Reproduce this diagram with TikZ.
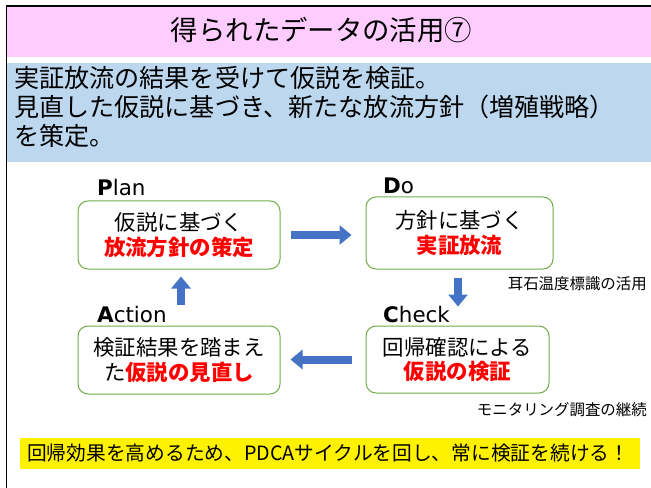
\documentclass[tikz,border=0pt]{standalone}
\usepackage{fontspec}
\usetikzlibrary{arrows.meta}
\setmainfont{Noto Sans CJK JP}
\newfontfamily\lat{DejaVu Sans}
\definecolor{pinkc}{HTML}{FFCCFF}
\definecolor{bluec}{HTML}{BDD7EE}
\definecolor{greenc}{HTML}{70AD47}
\definecolor{arrowc}{HTML}{4472C4}
\definecolor{redc}{HTML}{FF0000}
\begin{document}
\begin{tikzpicture}[x=1bp,y=-1bp,
  box/.style={draw=greenc, line width=1bp, rounded corners=10bp, align=center,
    inner sep=0, font=\fontsize{21.5}{24.5}\selectfont},
  lbl/.style={anchor=base west, inner sep=0, font=\lat\fontsize{21.5}{24}\selectfont},
  side/.style={anchor=base east, inner sep=0, font=\fontsize{15.5}{18}\selectfont},
  intro/.style={anchor=base west, inner sep=0, font=\fontsize{25.2}{28}\selectfont},
  blockarrow/.style={draw=arrowc, line width=8bp, -{Triangle[length=12bp,width=19bp]}}]
\useasboundingbox (0,0) rectangle (651,488);
\fill[white] (0,0) rectangle (651,488);
% frame
\draw[line width=1.8bp] (6.5,495) -- (6.5,6) -- (660,6);
% banners
\fill[pinkc] (7.4,6.9) rectangle (651,57);
\fill[bluec] (7.4,63) rectangle (651,162);
\fill[yellow] (20,438) rectangle (640,469);
% title
\node[inner sep=0, font=\fontsize{27.5}{30}\selectfont] (title) at (321.5,30) {得られたデータの活用⑦};
% blue text
\node[intro] (t1) at (14,88) {実証放流の結果を受けて仮説を検証。};
\node[intro] (t2) at (14,117) {見直した仮説に基づき、新たな放流方針（増殖戦略）};
\node[intro] (t3) at (14,146) {を策定。};
% boxes
\node[box, minimum width=202bp, minimum height=68bp] (plan) at (179,235)
  {仮説に基づく\\\textcolor{redc}{\bfseries 放流方針の策定}};
\node[box, minimum width=187bp, minimum height=72bp] (do) at (459.5,233)
  {方針に基づく\\\textcolor{redc}{\bfseries 実証放流}};
\node[box, minimum width=202bp, minimum height=68bp] (action) at (179,360)
  {検証結果を踏まえ\\た\textcolor{redc}{\bfseries 仮説の見直し}};
\node[box, minimum width=183bp, minimum height=67bp] (check) at (457.5,359.5)
  {回帰確認による\\\textcolor{redc}{\bfseries 仮説の検証}};
% labels
\node[lbl] (lp) at (97,196) {\textbf{P}lan};
\node[lbl] (ld) at (383,194) {\textbf{D}o};
\node[lbl] (la) at (97,322) {\textbf{A}ction};
\node[lbl] (lc) at (383,322) {\textbf{C}heck};
% side notes
\node[side] (s1) at (647,289) {耳石温度標識の活用};
\node[side] (s2) at (647,415) {モニタリング調査の継続};
% arrows
\draw[blockarrow, shorten <=10bp, shorten >=14bp] (plan.east) -- (plan.east -| do.west);
\draw[blockarrow, shorten <=8bp, shorten >=19bp] ([xshift=-1.5bp]do.south) -- ([xshift=-1.5bp]do.south |- check.north);
\draw[blockarrow, shorten <=14bp, shorten >=10bp] (check.west) -- (check.west -| action.east);
\draw[blockarrow, shorten <=21bp, shorten >=7bp] ([xshift=2bp]action.north) -- ([xshift=2bp]plan.south);
% bottom message
\node[anchor=base west, inner sep=0, font=\fontsize{19.8}{22}\selectfont] (msg) at (27,460)
  {回帰効果を高めるため、PDCAサイクルを回し、常に検証を続ける！};
\end{tikzpicture}
\end{document}
